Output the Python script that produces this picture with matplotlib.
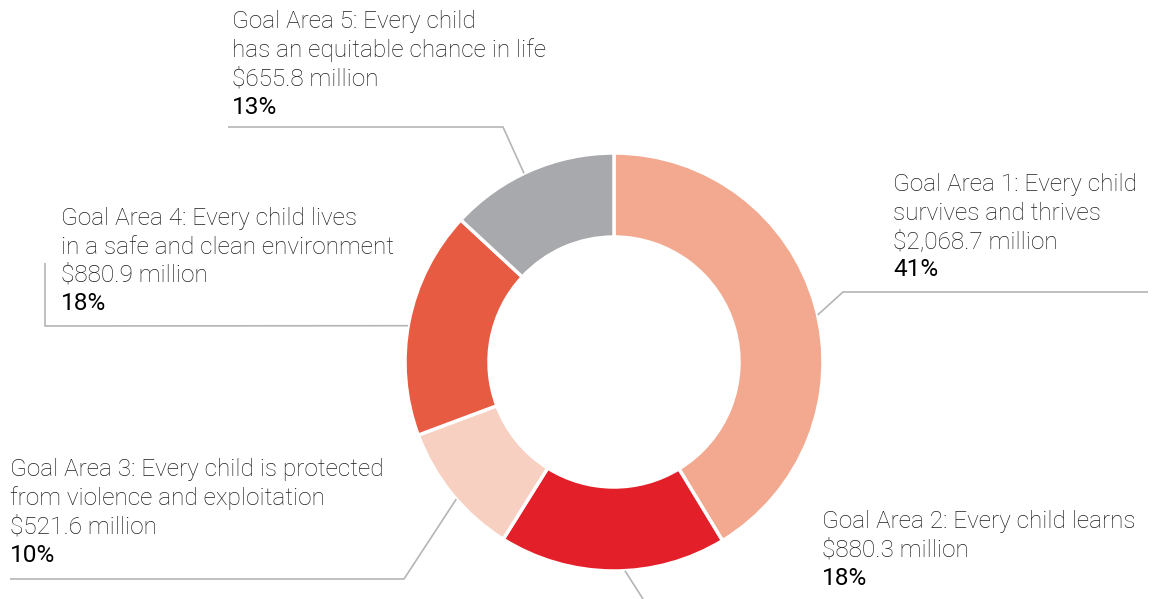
import matplotlib.pyplot as plt
import numpy as np

plt.rcParams['font.family'] = ['Roboto', 'DejaVu Sans']

labels = [
    ["Goal Area 1: Every child", "survives and thrives"],
    ["Goal Area 2: Every child learns"],
    ["Goal Area 3: Every child is protected", "from violence and exploitation"],
    ["Goal Area 4: Every child lives", "in a safe and clean environment"],
    ["Goal Area 5: Every child", "has an equitable chance in life"],
]
amounts = [2068.7, 880.3, 521.6, 880.9, 655.8]
pcts = ["41%", "18%", "10%", "18%", "13%"]
colors = ["#F2A98F", "#E31F2A", "#F8D0C1", "#E85B43", "#A7A9AC"]

W, H = 1152, 599
fig = plt.figure(figsize=(W / 100, H / 100), dpi=100)
ax = fig.add_axes([0, 0, 1, 1])

cx, cy, R = 614, H - 362, 209
ax.pie(amounts, colors=colors, startangle=90, counterclock=False,
       center=(cx, cy), radius=R,
       wedgeprops=dict(width=84, edgecolor='white', linewidth=2.5))
ax.set_xlim(0, W)
ax.set_ylim(0, H)
ax.set_aspect('equal')
ax.axis('off')

# label placement (pixel coords from top-left): text x, first baseline, anchor angle, leader path
txt_pos = [(893, 191), (822, 528), (10, 476), (61, 225), (232, 28)]
anchor_ang = [13, -87, -139, 170, 115.5]
paths = [
    [(843, 292), (1148, 292)],
    [(643, 599)],
    [(404, 579), (10, 579)],
    [(45, 326), (45, 263)],
    [(503, 127), (228, 127)],
]
pitch = 28.5
fs = 17.6

for i in range(len(amounts)):
    a = np.radians(anchor_ang[i])
    ax_ = cx + R * np.cos(a)
    ay_ = cy + R * np.sin(a)
    xs = [ax_] + [p[0] for p in paths[i]]
    ys = [ay_] + [H - p[1] for p in paths[i]]
    ax.plot(xs, ys, color='#b5b5b5', lw=1.2, solid_capstyle='butt', zorder=1)

    lines = labels[i] + ["$%s million" % f"{amounts[i]:,.1f}"]
    x0, y0 = txt_pos[i]
    for k, s in enumerate(lines):
        ax.text(x0, H - (y0 + k * pitch), s, fontsize=fs, color='#1f1c1d',
                fontweight='light', ha='left', va='baseline')
    ax.text(x0, H - (y0 + len(lines) * pitch), pcts[i], fontsize=fs,
            color='#000000', fontweight='normal', ha='left', va='baseline')

fig.savefig('out.png', dpi=100)
